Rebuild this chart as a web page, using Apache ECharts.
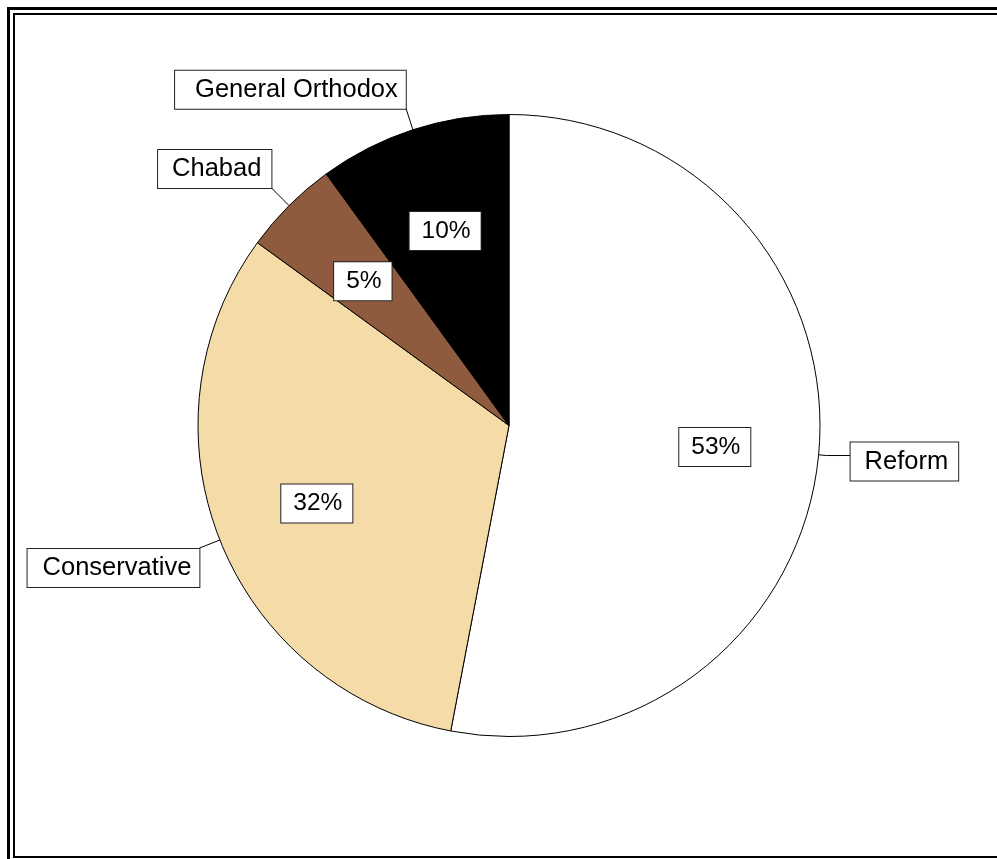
<!DOCTYPE html>
<html>
<head>
<meta charset="utf-8">
<script src="https://cdn.jsdelivr.net/npm/echarts@6/dist/echarts.min.js"></script>
<style>
html,body{margin:0;padding:0;background:#fff;}
#chart{width:997px;height:859px;}
</style>
</head>
<body>
<div id="chart"></div>
<script>
// ---- data ----
var categories = ['Reform', 'Conservative', 'Chabad', 'General Orthodox'];
var shares = [53, 32, 5, 10];

// ---- styles ----
var sliceColors = ['#FFFFFF', '#F5DBA7', '#8E5B3F', '#000000'];
var outerLine = [ {length: 8, length2: 24}, {length: 22, length2: 0}, {length: 25, length2: 0}, {length: 23, length2: 0} ];
var outerVAlign = ['middle', 'top', 'bottom', 'bottom'];
var outerShiftY = [6, 1, 0, 1];
var outerPadding = [[5, 10, 5, 14], [5, 8, 5, 15], [5, 10, 5, 14], [5, 8, 5, 20]];

var FONT = '"Liberation Sans", Arial, sans-serif';
var CX = 509, CY = 425.5, R = 311;

var mainData = categories.map(function (c, i) {
  return {
    name: c,
    value: shares[i],
    itemStyle: { color: sliceColors[i] },
    labelLine: outerLine[i],
    label: { padding: outerPadding[i] }
  };
});
var innerData = categories.map(function (c, i) {
  return { name: c, value: shares[i] };
});

var chart = echarts.init(document.getElementById('chart'), null, { renderer: 'canvas' });
chart.setOption({
  backgroundColor: '#ffffff',
  animation: false,
  graphic: [
    { type: 'rect', shape: { x: 8.5, y: 8.5, width: 1010, height: 880 }, style: { fill: 'none', stroke: '#000', lineWidth: 3 }, silent: true, z: 0 },
    { type: 'rect', shape: { x: 14, y: 14, width: 1000, height: 843 }, style: { fill: 'none', stroke: '#000', lineWidth: 2 }, silent: true, z: 0 }
  ],
  series: [
    {
      type: 'pie',
      center: [CX, CY],
      radius: [0, R],
      startAngle: 90,
      clockwise: true,
      avoidLabelOverlap: false,
      data: mainData,
      itemStyle: { borderColor: '#000', borderWidth: 1 },
      emphasis: { disabled: true },
      label: {
        show: true,
        position: 'outside',
        formatter: '{b}',
        color: '#000',
        fontFamily: FONT,
        fontSize: 25.5,
        lineHeight: 28,
        backgroundColor: '#fff',
        borderColor: '#222',
        borderWidth: 1,
        distanceToLabelLine: 0
      },
      labelLine: {
        show: true,
        smooth: false,
        lineStyle: { color: '#000', width: 1 }
      },
      labelLayout: function (p) {
        return { verticalAlign: outerVAlign[p.dataIndex], dy: outerShiftY[p.dataIndex] };
      }
    },
    {
      type: 'pie',
      center: [CX, CY + 2],
      radius: [R * 0.31, R],
      startAngle: 90,
      clockwise: true,
      silent: true,
      avoidLabelOverlap: false,
      data: innerData,
      itemStyle: { color: 'rgba(0,0,0,0)', borderWidth: 0 },
      emphasis: { disabled: true },
      labelLine: { show: false },
      label: {
        show: true,
        position: 'inside',
        formatter: function (p) { return Math.round(p.percent) + '%'; },
        color: '#000',
        fontFamily: FONT,
        fontSize: 24.5,
        lineHeight: 28,
        backgroundColor: '#fff',
        borderColor: '#222',
        borderWidth: 1,
        padding: [5, 10, 5, 12]
      }
    }
  ]
});
</script>
</body>
</html>
